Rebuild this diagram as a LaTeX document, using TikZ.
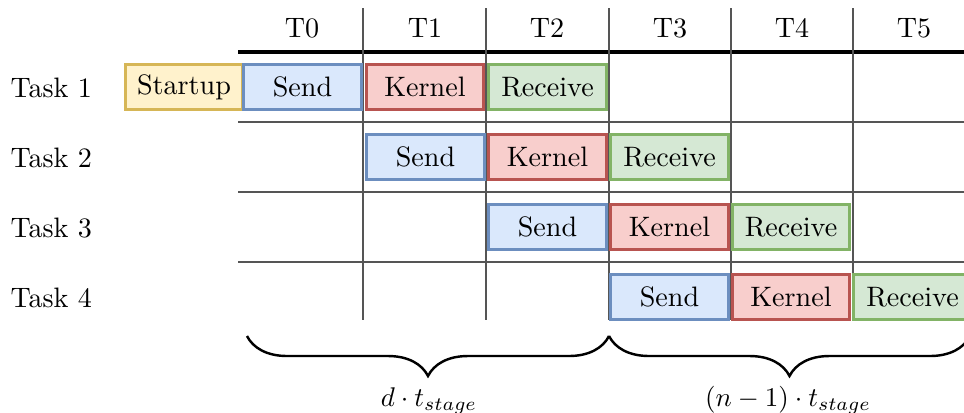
\documentclass[tikz,border=0pt]{standalone}
\usepackage{amsmath}
\usepackage{tikz}
\usetikzlibrary{positioning, decorations.pathreplacing}
\usepackage{xcolor}
\definecolor{sendfill}{HTML}{DAE8FC}
\definecolor{senddraw}{HTML}{6C8EBF}
\definecolor{kernfill}{HTML}{F8CECC}
\definecolor{kerndraw}{HTML}{B85450}
\definecolor{recvfill}{HTML}{D5E8D4}
\definecolor{recvdraw}{HTML}{82B366}
\definecolor{initfill}{HTML}{FFF2CC}
\definecolor{initdraw}{HTML}{D6B656}
\definecolor{gridgray}{HTML}{555555}
\newcommand{\chartfont}{\fontsize{10.4}{12.5}\selectfont}
\tikzset{
  % pipeline stage boxes
  stagebox/.style={
    rectangle, line width=1.05pt,
    minimum width=43.4pt, minimum height=16.8pt,
    inner sep=0pt, font=\chartfont
  },
  sendbox/.style={stagebox, fill=sendfill, draw=senddraw},
  kernbox/.style={stagebox, fill=kernfill, draw=kerndraw},
  recvbox/.style={stagebox, fill=recvfill, draw=recvdraw},
  initbox/.style={stagebox, fill=initfill, draw=initdraw},
  % table lines
  gridline/.style={draw=gridgray, line width=0.9pt},
  headline/.style={draw=black, line width=1.2pt},
  % labels
  timelabel/.style={font=\chartfont},
  tasklabel/.style={font=\chartfont, anchor=west, inner sep=0pt},
  spanbrace/.style={
    decorate, decoration={brace, mirror, amplitude=14.8pt},
    line width=0.9pt
  }
}

\begin{document}
\begin{tikzpicture}[x=0.37pt, y=-0.37pt]
  \useasboundingbox (0,0) rectangle (964,412);

  % Grid
  \draw[headline] (238,52) -- (964,52);
  \draw[gridline] (238,122) -- (964,122);
  \draw[gridline] (238,192) -- (964,192);
  \draw[gridline] (238,262) -- (964,262);
  \draw[gridline] (363,8) -- (363,320);
  \draw[gridline] (486,8) -- (486,320);
  \draw[gridline] (609,8) -- (609,320);
  \draw[gridline] (731,8) -- (731,320);
  \draw[gridline] (853,8) -- (853,320);

  % Time slots
  \node[timelabel] (t0) at (302,28) {T0};
  \node[timelabel] (t1) at (425,28) {T1};
  \node[timelabel] (t2) at (547,28) {T2};
  \node[timelabel] (t3) at (670,28) {T3};
  \node[timelabel] (t4) at (792,28) {T4};
  \node[timelabel] (t5) at (914,28) {T5};

  % Tasks
  \node[tasklabel] (task1) at (10,88) {Task 1};
  \node[tasklabel] (task2) at (10,158) {Task 2};
  \node[tasklabel] (task3) at (10,228) {Task 3};
  \node[tasklabel] (task4) at (10,298) {Task 4};

  % Task 1
  \node[initbox] (init1) at (184,87) {Startup};
  \node[sendbox] (send1) at (302.5,87) {Send};
  \node[kernbox] (kern1) at (425,87) {Kernel};
  \node[recvbox] (recv1) at (547.5,87) {Receive};

  % Task 2
  \node[sendbox] (send2) at (425.5,157) {Send};
  \node[kernbox] (kern2) at (547.5,157) {Kernel};
  \node[recvbox] (recv2) at (669.5,157) {Receive};

  % Task 3
  \node[sendbox] (send3) at (547.5,227) {Send};
  \node[kernbox] (kern3) at (669.5,227) {Kernel};
  \node[recvbox] (recv3) at (791,227) {Receive};

  % Task 4
  \node[sendbox] (send4) at (669.5,297) {Send};
  \node[kernbox] (kern4) at (791,297) {Kernel};
  \node[recvbox] (recv4) at (912.5,297) {Receive};

  % Braces
  \coordinate (fillstart) at (247,336);
  \coordinate (fillend) at (609,336);
  \coordinate (drainend) at (970,336);
  \draw[spanbrace] (fillstart) -- (fillend);
  \draw[spanbrace] (fillend) -- (drainend);
  \node[anchor=base, font=\chartfont] (filllabel) at (429,406) {$d\cdot t_{stage}$};
  \node[anchor=base, font=\chartfont] (drainlabel) at (788,406) {$(n-1)\cdot t_{stage}$};

\end{tikzpicture}
\end{document}
